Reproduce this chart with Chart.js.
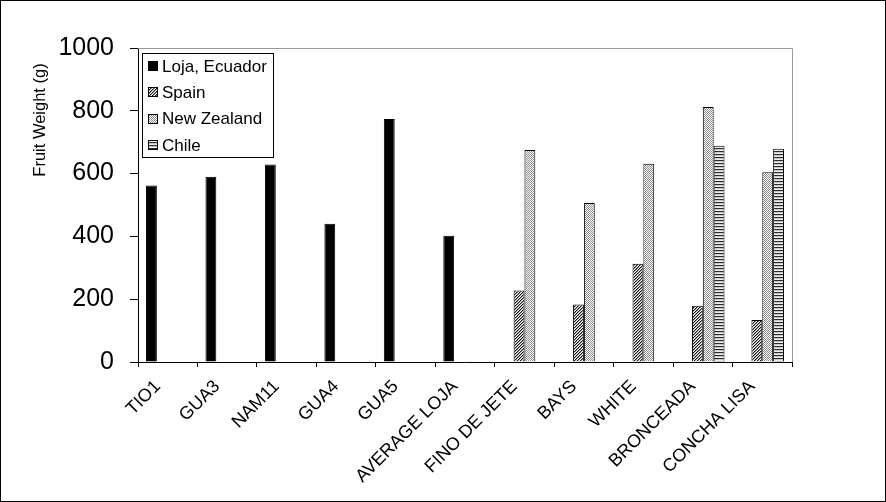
<!DOCTYPE html>
<html>
<head>
<meta charset="utf-8">
<script src="https://cdn.jsdelivr.net/npm/chart.js@4.4.1/dist/chart.umd.min.js"></script>
<style>
  html, body { margin: 0; padding: 0; background: #fff; }
  #wrap { width: 886px; height: 502px; box-sizing: border-box; border: 1px solid #000; position: relative; }
  canvas { display: block; }
</style>
</head>
<body>
<div id="wrap"><canvas id="chart" width="884" height="500"></canvas></div>
<script>
// categories and series
const cultivars = ["TIO1", "GUA3", "NAM11", "GUA4", "GUA5", "AVERAGE LOJA",
  "FINO DE JETE", "BAYS", "WHITE", "BRONCEADA", "CONCHA LISA"];
const lojaEcuador = [562, 590, 629, 440, 774, 402, null, null, null, null, null];
const spain = [null, null, null, null, null, null, 228, 183, 313, 179, 134];
const newZealand = [null, null, null, null, null, null, 675, 506, 631, 812, 604];
const chile = [null, null, null, null, null, null, null, null, null, 689, 679];
const yTicks = [0, 200, 400, 600, 800, 1000];

const FONT = "'Liberation Sans', Arial, sans-serif";

// fill patterns like the old Excel ones
function makePattern(size, drawFn) {
  const c = document.createElement("canvas");
  c.width = size;
  c.height = size;
  const g = c.getContext("2d");
  g.fillStyle = "#fff";
  g.fillRect(0, 0, size, size);
  drawFn(g);
  return g.createPattern(c, "repeat");
}

const ctx = document.getElementById("chart").getContext("2d");

const hatchSpain = makePattern(3, (g) => {
  for (let i = 0; i < 3; i++) {
    g.fillStyle = "#111";
    g.fillRect(i, 2 - i, 1, 1);
    g.fillStyle = "#999";
    g.fillRect((i + 1) % 3, 2 - i, 1, 1);
  }
});
const dotsNZ = makePattern(2, (g) => {
  g.fillStyle = "#8c8c8c";
  g.fillRect(0, 0, 1, 1);
  g.fillRect(1, 1, 1, 1);
});
const stripesChile = makePattern(3, (g) => {
  g.fillStyle = "#2a2a2a";
  g.fillRect(0, 0, 3, 1);
  g.fillStyle = "#c8c8c8";
  g.fillRect(0, 1, 3, 1);
  g.fillStyle = "#eee";
  g.fillRect(0, 2, 3, 1);
});

// legend box, y title and plot frame are drawn by hand
const extras = {
  id: "extras",
  afterDraw(chart) {
    const c = chart.ctx;
    const area = chart.chartArea;
    c.save();
    // gray frame top and right of plot
    c.strokeStyle = "#999";
    c.lineWidth = 1;
    c.beginPath();
    c.moveTo(area.left, Math.round(area.top) + 0.5);
    c.lineTo(Math.round(area.right) + 0.5, Math.round(area.top) + 0.5);
    c.lineTo(Math.round(area.right) + 0.5, area.bottom);
    c.stroke();

    // y axis title
    c.fillStyle = "#000";
    c.font = "16.5px " + FONT;
    c.textAlign = "center";
    c.textBaseline = "middle";
    c.translate(39, 119);
    c.rotate(-Math.PI / 2);
    c.fillText("Fruit Weight (g)", 0, 0);
    c.restore();

    // legend
    c.save();
    c.fillStyle = "#fff";
    c.fillRect(141.5, 52.5, 131, 104);
    c.strokeStyle = "#000";
    c.lineWidth = 1;
    c.strokeRect(141.5, 52.5, 131, 104);
    c.font = "17px " + FONT;
    c.textBaseline = "middle";
    c.textAlign = "left";
    chart.data.datasets.forEach((ds, i) => {
      const cy = 65 + i * 26.3;
      c.fillStyle = ds.backgroundColor;
      c.fillRect(147, Math.round(cy - 5), 10, 10);
      c.strokeStyle = "#000";
      c.strokeRect(147.5, Math.round(cy - 5) + 0.5, 9, 9);
      c.fillStyle = "#000";
      c.fillText(ds.label, 161, cy + 1);
    });
    c.restore();
  }
};

new Chart(ctx, {
  type: "bar",
  data: {
    labels: cultivars,
    datasets: [
      { label: "Loja, Ecuador", data: lojaEcuador, backgroundColor: "#000" },
      { label: "Spain", data: spain, backgroundColor: hatchSpain },
      { label: "New Zealand", data: newZealand, backgroundColor: dotsNZ },
      { label: "Chile", data: chile, backgroundColor: stripesChile }
    ].map((d) => Object.assign(d, {
      borderColor: "#000",
      borderWidth: 1,
      categoryPercentage: 0.73,
      barPercentage: 1
    }))
  },
  options: {
    responsive: false,
    animation: false,
    layout: { padding: { top: 47, right: 93, left: 0, bottom: 0 } },
    plugins: {
      legend: { display: false },
      tooltip: { enabled: false }
    },
    scales: {
      x: {
        grid: { drawOnChartArea: false, color: "#000", tickLength: 5, offset: true },
        border: { color: "#000" },
        ticks: {
          color: "#000",
          font: { family: FONT, size: 18 },
          maxRotation: 45,
          minRotation: 45,
          autoSkip: false,
          padding: 9,
          labelOffset: -10
        },
        afterFit(scale) { scale.height = 139; }
      },
      y: {
        min: 0,
        max: 1000,
        afterBuildTicks(scale) { scale.ticks = yTicks.map((v) => ({ value: v })); },
        grid: { drawOnChartArea: false, color: "#000", tickLength: 8 },
        border: { color: "#000" },
        ticks: {
          color: "#000",
          font: { family: FONT, size: 25 },
          padding: 16,
          callback: (v) => String(v)
        },
        afterFit(scale) { scale.width = 137; }
      }
    }
  },
  plugins: [extras]
});
</script>
</body>
</html>
